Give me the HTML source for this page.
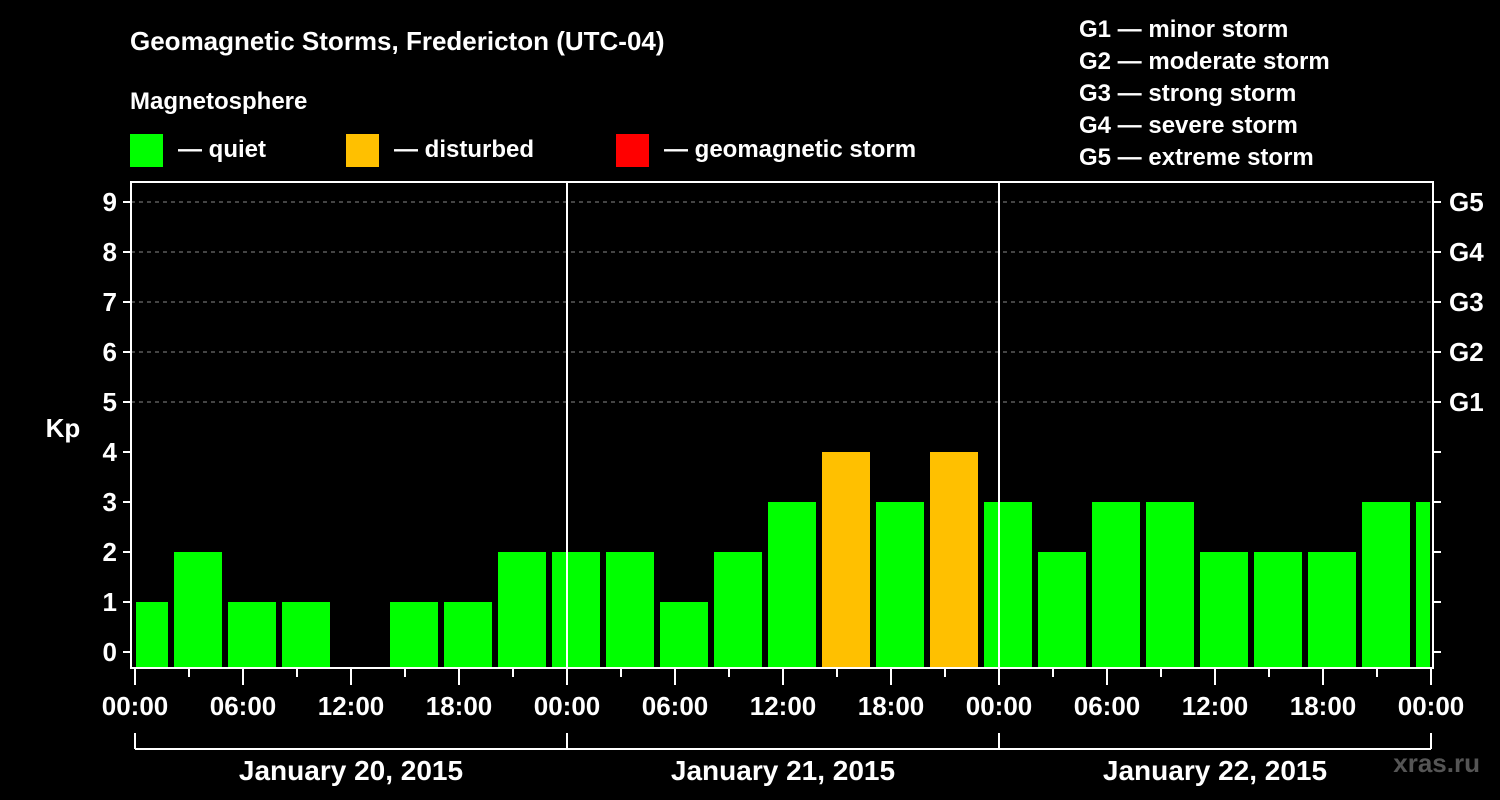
<!DOCTYPE html>
<html><head><meta charset="utf-8"><style>
body{margin:0;background:#000;}
svg{display:block;font-family:"Liberation Sans",Arial,sans-serif;font-weight:bold;}
</style></head><body>
<svg id="chart" width="1500" height="800" viewBox="0 0 1500 800">
<rect x="0" y="0" width="1500" height="800" fill="#000"/>
<text x="130" y="50" fill="#fff" font-size="26">Geomagnetic Storms, Fredericton (UTC-04)</text>
<text x="130" y="109" fill="#fff" font-size="24">Magnetosphere</text>
<g><rect x="130" y="134" width="33" height="33" fill="#00ff00"/><text x="178" y="157" fill="#fff" font-size="24">— quiet</text></g>
<g><rect x="346" y="134" width="33" height="33" fill="#ffc000"/><text x="394" y="157" fill="#fff" font-size="24">— disturbed</text></g>
<g><rect x="616" y="134" width="33" height="33" fill="#ff0000"/><text x="664" y="157" fill="#fff" font-size="24">— geomagnetic storm</text></g>
<g fill="#fff" font-size="24">
<text x="1079" y="37">G1 — minor storm</text>
<text x="1079" y="69">G2 — moderate storm</text>
<text x="1079" y="101">G3 — strong storm</text>
<text x="1079" y="133">G4 — severe storm</text>
<text x="1079" y="165">G5 — extreme storm</text>
</g>
<text x="63" y="437" fill="#fff" font-size="26" text-anchor="middle">Kp</text>
<text x="1480" y="772" fill="#555" font-size="26" text-anchor="end">xras.ru</text>
<g id="grid"></g><g id="bars"></g><g id="axes"></g>
</svg>
<script>
const kpValues=[1,2,1,1,null,1,1,2,2,2,1,2,3,4,3,4,3,2,3,3,2,2,2,3,3];
const yTicks=[0,1,2,3,4,5,6,7,8,9];
const gLabels=["G1","G2","G3","G4","G5"];
const xTickLabels=["00:00","06:00","12:00","18:00","00:00","06:00","12:00","18:00","00:00","06:00","12:00","18:00","00:00"];
const dayLabels=["January 20, 2015","January 21, 2015","January 22, 2015"];
const NS="http://www.w3.org/2000/svg";
const X0=135,PXH=18,L=131,R=1433,T=182,B=668;
const xs=h=>X0+h*PXH;
const ys=v=>652-v*50;
function mk(tag,attrs,parent,txt){const e=document.createElementNS(NS,tag);for(const k in attrs)e.setAttribute(k,attrs[k]);if(txt!=null)e.textContent=txt;document.getElementById(parent).appendChild(e);return e;}
yTicks.forEach(v=>{
 if(v>=5){const g=mk('line',{x1:L,x2:R,y1:ys(v),y2:ys(v),stroke:'#888','stroke-dasharray':'4,4','stroke-width':1},'grid');
 
 }
 const t=mk('line',{x1:L-8,x2:L,y1:ys(v),y2:ys(v),stroke:'#fff','stroke-width':2},'axes');
 
 
 const t2=mk('line',{x1:R,x2:R+8,y1:ys(v),y2:ys(v),stroke:'#fff','stroke-width':2},'axes');
 
 
 const l=mk('text',{x:L-14,y:ys(v)+9,fill:'#fff','font-size':26,'text-anchor':'end'},'axes',String(v));
 
 
});
gLabels.forEach((g,i)=>{
 const l=mk('text',{x:R+16,y:ys(5+i)+9,fill:'#fff','font-size':26},'axes',g);
 
 
});
kpValues.forEach((v,i)=>{
 if(v==null)return;
 let s=-1+3*i,e=s+3;
 let x1=Math.max(xs(s)+3,L+5),x2=Math.min(xs(e)-3,R-3);
 const b=mk('rect',{x:x1,y:ys(v),width:x2-x1,height:B-ys(v),fill:v>=5?'#ff0000':(v>=4?'#ffc000':'#00ff00')},'bars');
 
 
});
[24,48].forEach(h=>{const d=mk('line',{x1:xs(h),x2:xs(h),y1:T,y2:B,stroke:'#fff','stroke-width':2},'axes');
 
 });
const fr=mk('rect',{x:L,y:T,width:R-L,height:B-T,fill:'none',stroke:'#fff','stroke-width':2},'axes');


for(let h=0;h<=72;h+=3){const tk=mk('line',{x1:xs(h),x2:xs(h),y1:B,y2:B+(h%6==0?17:9),stroke:'#fff','stroke-width':2},'axes');
 
 }
xTickLabels.forEach((t,i)=>{const l=mk('text',{x:xs(i*6),y:715,fill:'#fff','font-size':26,'text-anchor':'middle'},'axes',t);
 
 });
const br=mk('line',{x1:xs(0),x2:xs(72),y1:749,y2:749,stroke:'#fff','stroke-width':2},'axes');


for(let d=0;d<=3;d++){const bt=mk('line',{x1:xs(d*24),x2:xs(d*24),y1:733,y2:749,stroke:'#fff','stroke-width':2},'axes');
 
 }
dayLabels.forEach((t,i)=>{const l=mk('text',{x:xs(i*24+12),y:780,fill:'#fff','font-size':28,'text-anchor':'middle'},'axes',t);
 
 });
</script>
</body></html>
